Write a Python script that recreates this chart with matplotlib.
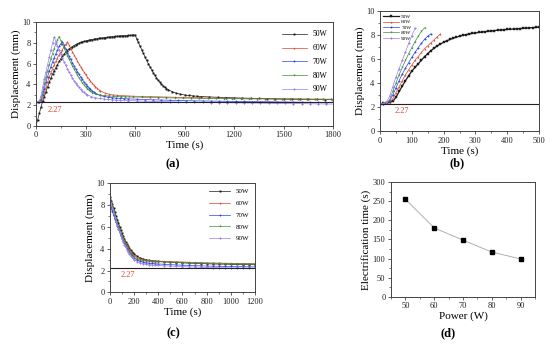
import matplotlib
matplotlib.use("Agg")
import matplotlib.pyplot as plt
from matplotlib.ticker import MultipleLocator, AutoMinorLocator

plt.rcParams['font.family'] = ['Liberation Serif', 'DejaVu Serif']

# ---------------- data ----------------
labels = ["50W", "60W", "70W", "80W", "90W"]
colors = ["#1a1a1a", "#d9462b", "#2a45e8", "#3c8f3c", "#9b7ff0"]
markers = ["s", "^", "o", "v", "D"]

# sample times (s) for the heating (rise) stage
rise_t = [0, 10, 20, 30, 40, 50, 60, 70, 80, 90,
          100, 110, 120, 130, 140, 150, 160, 170, 180, 190,
          200, 210, 220, 230, 240, 250, 260, 270, 280, 290,
          300, 310, 320, 330, 340, 350, 360, 370, 380, 390,
          400, 410, 420, 430, 440, 450, 460, 470, 480, 490,
          500, 510, 520, 530, 540, 550, 560, 570, 580, 590, 600]

rise_50 = [2.27, 2.30, 2.33, 2.38, 2.50, 2.80, 3.30, 3.75, 4.20, 4.60,
           5.00, 5.30, 5.60, 5.90, 6.20, 6.45, 6.70, 6.90, 7.10, 7.25,
           7.40, 7.52, 7.63, 7.73, 7.82, 7.90, 7.97, 8.03, 8.08, 8.13,
           8.17, 8.21, 8.25, 8.28, 8.31, 8.34, 8.37, 8.40, 8.42, 8.44,
           8.46, 8.48, 8.50, 8.52, 8.54, 8.56, 8.58, 8.60, 8.62, 8.63,
           8.65, 8.66, 8.67, 8.68, 8.69, 8.70, 8.71, 8.72, 8.73, 8.74, 8.75]
rise_60 = [2.27, 2.29, 2.31, 2.35, 2.70, 3.20, 3.70, 4.20, 4.70, 5.10,
           5.50, 5.90, 6.20, 6.55, 6.85, 7.10, 7.35, 7.60, 7.85, 8.10]
rise_70 = [2.27, 2.29, 2.32, 2.50, 3.00, 3.60, 4.20, 4.75, 5.25, 5.70,
           6.15, 6.55, 6.95, 7.30, 7.65, 7.90, 8.10]
rise_80 = [2.27, 2.29, 2.35, 2.60, 3.30, 4.00, 4.70, 5.30, 5.90, 6.45,
           6.95, 7.45, 7.90, 8.30, 8.60]
rise_90 = [2.27, 2.30, 2.40, 2.90, 3.70, 4.50, 5.20, 5.90, 6.60, 7.30,
           7.95, 8.55]

# in panel (a) the 50W record starts from zero displacement
a50_start = [0.00, 0.60, 1.20, 1.80, 2.35]

# sample times (s) after power-off (recovery stage)
decay_t = [0, 10, 20, 30, 40, 50, 60, 70, 80, 90,
           100, 110, 120, 130, 140, 150, 160, 170, 180, 190, 200,
           225, 250, 275, 300, 325, 350, 375, 400,
           450, 500, 550, 600, 650, 700, 750, 800, 850, 900,
           950, 1000, 1050, 1100, 1150, 1200, 1250, 1300, 1350, 1400,
           1450, 1500, 1550, 1600, 1650, 1700]

decay_50 = [8.75, 8.40, 8.05, 7.70, 7.35, 7.00, 6.65, 6.32, 6.00, 5.70,
            5.40, 5.12, 4.86, 4.62, 4.40, 4.20, 4.02, 3.86, 3.72, 3.60, 3.50,
            3.30, 3.15, 3.05, 2.98, 2.93, 2.89, 2.86, 2.83,
            2.79, 2.76, 2.73, 2.70, 2.68, 2.66, 2.64, 2.62, 2.60, 2.59,
            2.58, 2.57, 2.56, 2.55, 2.54, 2.53, 2.52, 2.51, 2.50, 2.50,
            2.49, 2.49, 2.48, 2.48, 2.47, 2.47]
decay_60 = [8.10, 7.78, 7.46, 7.15, 6.85, 6.55, 6.26, 5.98, 5.71, 5.45,
            5.20, 4.96, 4.73, 4.51, 4.30, 4.11, 3.93, 3.77, 3.62, 3.49, 3.38,
            3.18, 3.06, 2.99, 2.95, 2.92, 2.90, 2.88, 2.86,
            2.84, 2.82, 2.80, 2.78, 2.76, 2.74, 2.72, 2.70, 2.69, 2.68,
            2.67, 2.66, 2.65, 2.64, 2.63, 2.62, 2.61, 2.60, 2.60, 2.59,
            2.59, 2.58, 2.58, 2.57, 2.57, 2.56]
decay_70 = [8.10, 7.75, 7.40, 7.06, 6.73, 6.41, 6.10, 5.80, 5.51, 5.23,
            4.97, 4.72, 4.48, 4.26, 4.05, 3.86, 3.68, 3.52, 3.38, 3.25, 3.14,
            2.95, 2.84, 2.77, 2.72, 2.68, 2.65, 2.62, 2.60,
            2.57, 2.54, 2.51, 2.49, 2.47, 2.45, 2.43, 2.41, 2.40, 2.39,
            2.38, 2.37, 2.36, 2.35, 2.34, 2.33, 2.32, 2.31, 2.30, 2.29,
            2.28, 2.27, 2.26, 2.25, 2.24, 2.23]
decay_80 = [8.60, 8.22, 7.85, 7.48, 7.12, 6.77, 6.43, 6.10, 5.78, 5.48,
            5.19, 4.91, 4.65, 4.40, 4.17, 3.96, 3.77, 3.60, 3.45, 3.32, 3.21,
            3.04, 2.96, 2.91, 2.88, 2.86, 2.84, 2.82, 2.80,
            2.78, 2.76, 2.74, 2.72, 2.70, 2.69, 2.68, 2.67, 2.66, 2.65,
            2.64, 2.63, 2.62, 2.61, 2.60, 2.60, 2.59, 2.59, 2.58, 2.58,
            2.57, 2.57, 2.56, 2.56, 2.55, 2.55]
decay_90 = [8.55, 8.12, 7.70, 7.30, 6.91, 6.53, 6.17, 5.83, 5.50, 5.19,
            4.90, 4.62, 4.36, 4.12, 3.90, 3.70, 3.52, 3.36, 3.22, 3.10, 3.00,
            2.82, 2.71, 2.64, 2.59, 2.55, 2.52, 2.49, 2.47,
            2.44, 2.41, 2.38, 2.36, 2.34, 2.32, 2.30, 2.28, 2.27, 2.26,
            2.25, 2.24, 2.23, 2.22, 2.21, 2.20, 2.19, 2.18, 2.17, 2.16,
            2.15, 2.14, 2.13, 2.12, 2.11, 2.10]

# panel (d)
power_w = [50, 60, 70, 80, 90]
electrification_s = [255, 180, 148, 117, 99]

baseline = 2.27

rises = [rise_50, rise_60, rise_70, rise_80, rise_90]
decays = [decay_50, decay_60, decay_70, decay_80, decay_90]

# ---------------- figure ----------------
fig = plt.figure(figsize=(5.5, 3.44), dpi=100)

ax_a = fig.add_axes([0.0655, 0.634, 0.540, 0.302])
ax_b = fig.add_axes([0.691, 0.619, 0.289, 0.349])
ax_c = fig.add_axes([0.200, 0.150, 0.2636, 0.318])
ax_d = fig.add_axes([0.711, 0.137, 0.2618, 0.334])

spine_col = "#444444"
tick_fs = 6


def style(ax):
    for s in ax.spines.values():
        s.set_color(spine_col)
        s.set_linewidth(0.7)
    ax.tick_params(which="both", direction="out", colors=spine_col,
                   labelcolor="#222222", labelsize=tick_fs, pad=1.5,
                   top=False, right=False)
    ax.tick_params(which="major", length=2.5, width=0.6)
    ax.tick_params(which="minor", length=1.5, width=0.5)


ms = 1.0
lw = 0.5

# (a) full cycle
for i in range(5):
    n = len(rises[i])
    peak_t = rise_t[n - 1]
    ys = list(rises[i])
    if i == 0:
        ys[:len(a50_start)] = a50_start
    ts = list(rise_t[:n]) + [peak_t + d for d in decay_t[1:]]
    vs = ys + decays[i][1:]
    ax_a.plot(ts, vs, color=colors[i], marker=markers[i], ms=ms, lw=lw,
              mew=0.3, label=labels[i])
ax_a.axhline(baseline, color="#222222", lw=0.8)
ax_a.text(115, baseline - 0.35, "2.27", color="#d9462b", fontsize=6,
          ha="center", va="top")
ax_a.set_xlim(0, 1800)
ax_a.set_ylim(0, 10)
ax_a.xaxis.set_major_locator(MultipleLocator(300))
ax_a.xaxis.set_minor_locator(AutoMinorLocator(2))
ax_a.yaxis.set_major_locator(MultipleLocator(2))
ax_a.yaxis.set_minor_locator(AutoMinorLocator(2))
ax_a.set_xlabel("Time (s)", fontsize=8, labelpad=1)
ax_a.set_ylabel("Displacement (mm)", fontsize=8, labelpad=1)
style(ax_a)
ax_a.legend(loc="upper right", fontsize=5.5, frameon=False, handlelength=3.2,
            labelspacing=0.75, bbox_to_anchor=(1.0, 0.97), borderaxespad=0.3)

# (b) rise stage
for i in range(5):
    n = len(rises[i])
    ax_b.plot(rise_t[:n], rises[i], color=colors[i], marker=markers[i],
              ms=ms if i else 1.6, lw=lw if i else 0.9, mew=0.3,
              label=labels[i])
ax_b.axhline(baseline, color="#222222", lw=0.8)
ax_b.text(70, baseline - 0.3, "2.27", color="#d9462b", fontsize=6,
          ha="center", va="top")
ax_b.set_xlim(0, 500)
ax_b.set_ylim(0, 10)
ax_b.xaxis.set_major_locator(MultipleLocator(100))
ax_b.xaxis.set_minor_locator(AutoMinorLocator(2))
ax_b.yaxis.set_major_locator(MultipleLocator(2))
ax_b.yaxis.set_minor_locator(AutoMinorLocator(2))
ax_b.set_xlabel("Time (s)", fontsize=8, labelpad=1)
ax_b.set_ylabel("Displacement (mm)", fontsize=8, labelpad=1)
style(ax_b)
ax_b.legend(loc="upper left", fontsize=3.8, frameon=False, handlelength=3.0,
            labelspacing=0.15, borderaxespad=0.2, handletextpad=0.4)

# (c) recovery stage
for i in range(5):
    ax_c.plot(decay_t, decays[i], color=colors[i], marker=markers[i], ms=ms,
              lw=lw, mew=0.3, label=labels[i])
ax_c.axhline(baseline, color="#222222", lw=0.8)
ax_c.text(150, baseline - 0.3, "2.27", color="#d9462b", fontsize=6,
          ha="center", va="top")
ax_c.set_xlim(0, 1200)
ax_c.set_ylim(0, 10)
ax_c.xaxis.set_major_locator(MultipleLocator(200))
ax_c.xaxis.set_minor_locator(AutoMinorLocator(2))
ax_c.yaxis.set_major_locator(MultipleLocator(2))
ax_c.yaxis.set_minor_locator(AutoMinorLocator(2))
ax_c.set_xlabel("Time (s)", fontsize=8, labelpad=1)
ax_c.set_ylabel("Displacement (mm)", fontsize=8, labelpad=1)
style(ax_c)
ax_c.legend(loc="upper right", fontsize=5, frameon=False, handlelength=3.0,
            labelspacing=0.85, borderaxespad=0.4)

# (d) electrification time vs power
ax_d.plot(power_w, electrification_s, color="#b0b0b0", lw=0.7, marker="s",
          ms=2.4, mfc="black", mec="black")
ax_d.set_xlim(45, 95)
ax_d.set_ylim(0, 300)
ax_d.xaxis.set_major_locator(MultipleLocator(10))
ax_d.xaxis.set_minor_locator(AutoMinorLocator(2))
ax_d.yaxis.set_major_locator(MultipleLocator(50))
ax_d.yaxis.set_minor_locator(AutoMinorLocator(2))
ax_d.set_xlabel("Power (W)", fontsize=8, labelpad=1)
ax_d.set_ylabel("Electrification time (s)", fontsize=8, labelpad=1)
style(ax_d)

# panel letters
fig.text(173 / 550, 1 - 164 / 344, "(a)", fontsize=9, fontweight="bold",
         ha="center", va="center")
fig.text(457 / 550, 1 - 163 / 344, "(b)", fontsize=9, fontweight="bold",
         ha="center", va="center")
fig.text(173 / 550, 1 - 333 / 344, "(c)", fontsize=9, fontweight="bold",
         ha="center", va="center")
fig.text(448 / 550, 1 - 333 / 344, "(d)", fontsize=9, fontweight="bold",
         ha="center", va="center")

fig.savefig("out.png", dpi=100, facecolor="white")
